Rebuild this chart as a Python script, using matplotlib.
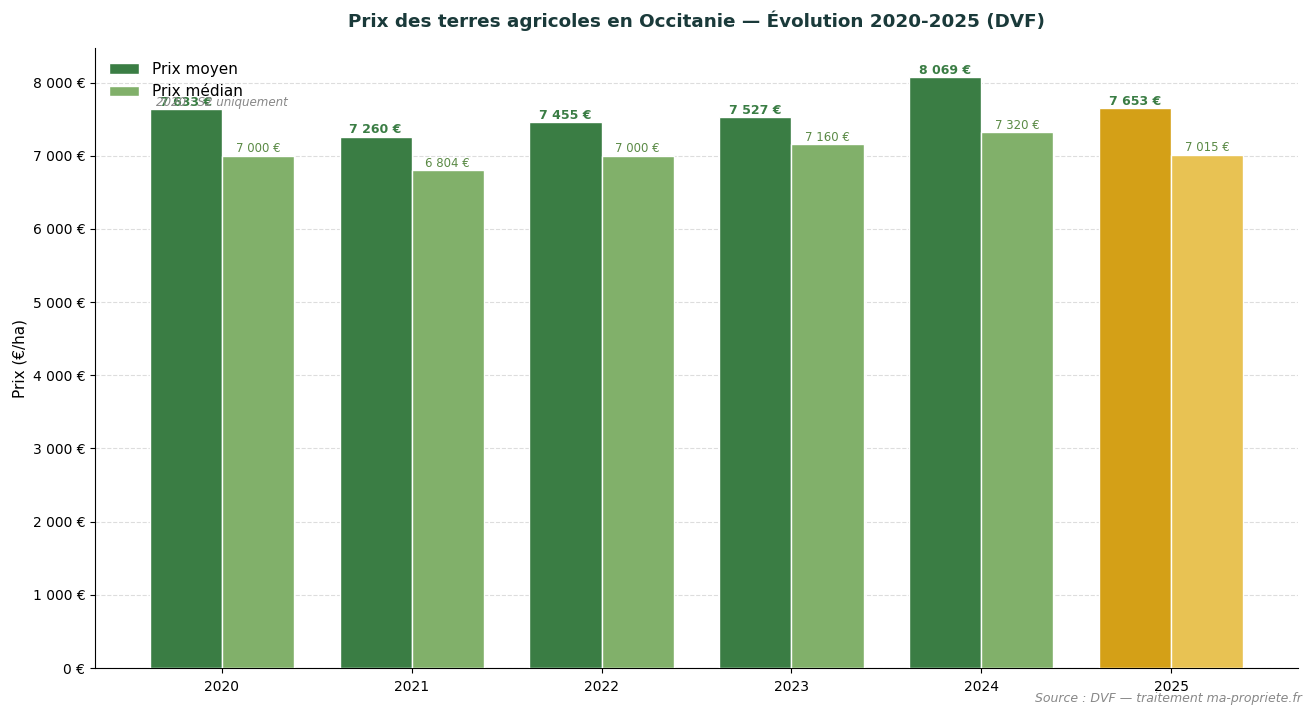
import matplotlib
matplotlib.use("Agg")
import matplotlib.pyplot as plt
import numpy as np
from matplotlib.ticker import FuncFormatter

years = ["2020", "2021", "2022", "2023", "2024", "2025"]
prix_moyen = [7633, 7260, 7455, 7527, 8069, 7653]
prix_median = [7000, 6804, 7000, 7160, 7320, 7015]

def fmt(v):
    return f"{v:,.0f}".replace(",", " ") + " €"

fig, ax = plt.subplots(figsize=(13.12, 7.16), dpi=100)
fig.subplots_adjust(left=0.0724, right=0.9893, top=0.933, bottom=0.067)

x = np.arange(len(years))
w = 0.38
c_moy = ["#3a7d44"] * 5 + ["#d4a017"]
c_med = ["#81b06a"] * 5 + ["#e8c253"]

b1 = ax.bar(x - w/2, prix_moyen, w, color=c_moy, edgecolor="white", linewidth=1, label="Prix moyen", zorder=3)
b2 = ax.bar(x + w/2, prix_median, w, color=c_med, edgecolor="white", linewidth=1, label="Prix médian", zorder=3)

for xi, v in zip(x, prix_moyen):
    ax.text(xi - w/2, v + 5, fmt(v), ha="center", va="bottom", fontsize=9, fontweight="bold", color="#3a7d44", zorder=4)
for xi, v in zip(x, prix_median):
    ax.text(xi + w/2, v + 5, fmt(v), ha="center", va="bottom", fontsize=8.5, color="#5a8a45", zorder=4)

ax.text(x[0], prix_moyen[0] + 5, "2020 : S2 uniquement", ha="center", va="bottom",
        fontsize=8.6, style="italic", color="#888888", zorder=4)

ax.set_xticks(x)
ax.set_xticklabels(years)
ax.yaxis.set_major_formatter(FuncFormatter(lambda v, p: fmt(v)))
ax.set_ylim(0, 8069 * 1.05)
ax.set_ylabel("Prix (€/ha)", fontsize=11)
ax.set_title("Prix des terres agricoles en Occitanie — Évolution 2020-2025 (DVF)", fontsize=13.2,
             fontweight="bold", color="#1a3a3a", pad=15)
ax.grid(axis="y", linestyle="--", color="#dddddd", linewidth=0.8, zorder=0)
ax.spines["top"].set_visible(False)
ax.spines["right"].set_visible(False)
ax.tick_params(axis="both", labelsize=10)
ax.tick_params(axis="x", pad=5)
ax.legend(loc="upper left", frameon=False, fontsize=11)

fig.text(0.992, 0.015, "Source : DVF — traitement ma-propriete.fr", ha="right", va="bottom",
         fontsize=9, style="italic", color="#888888")

fig.savefig("out.png", dpi=100)
